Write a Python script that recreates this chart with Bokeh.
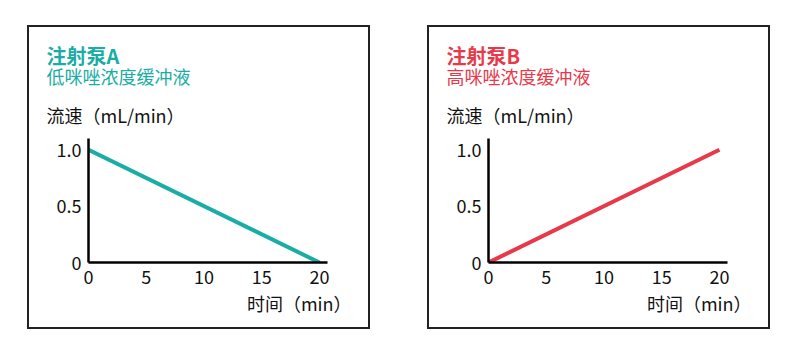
from bokeh.plotting import figure
from bokeh.layouts import row
from bokeh.models import Title, FixedTicker, Range1d
from bokeh.embed import file_html
from bokeh.resources import INLINE

# ---- data ----
time_min = [0, 20]
pump_a_flow = [1.0, 0.0]
pump_b_flow = [0.0, 1.0]
x_ticks = [0, 5, 10, 15, 20]
y_ticks = [0, 0.5, 1.0]
y_tick_labels = {0: "0", 0.5: "0.5", 1.0: "1.0"}

panels = [
    ("注射泵A", "低咪唑浓度缓冲液", pump_a_flow, "#1AADA5"),
    ("注射泵B", "高咪唑浓度缓冲液", pump_b_flow, "#E8394A"),
]

FONT = "Noto Sans CJK SC"


def make_panel(title, subtitle, flow, color):
    p = figure(width=339, height=300, output_backend="svg", toolbar_location=None,
               x_range=Range1d(0, 20.7), y_range=Range1d(0, 1.1),
               min_border_left=59, min_border_right=41,
               min_border_top=111, min_border_bottom=65,
               margin=(27, 32, 20, 29),
               styles={"outline": "2px solid #222222", "outline-offset": "0px"})
    p.outline_line_color = None
    p.grid.visible = False
    p.background_fill_color = "white"
    p.border_fill_color = "white"

    for ax in (p.xaxis[0], p.yaxis[0]):
        ax.axis_line_color = "black"
        ax.axis_line_width = 2.5
        ax.major_tick_line_color = None
        ax.minor_tick_line_color = None
        ax.major_label_text_font = FONT
        ax.major_label_text_font_size = "18px"
        ax.major_label_text_color = "#111111"
    p.xaxis[0].ticker = FixedTicker(ticks=x_ticks)
    p.xaxis[0].major_label_standoff = 1
    p.yaxis[0].ticker = FixedTicker(ticks=y_ticks)
    p.yaxis[0].major_label_overrides = y_tick_labels
    p.yaxis[0].major_label_standoff = 1

    p.line(time_min, flow, line_color=color, line_width=4)

    # texts above the frame (first added = nearest the frame)
    p.add_layout(Title(text="流速（mL/min）", align="left", offset=-42, standoff=22,
                       text_font=FONT, text_font_size="18px", text_font_style="normal",
                       text_color="#111111"), "above")
    p.add_layout(Title(text=subtitle, align="left", offset=-42, standoff=-1,
                       text_font=FONT, text_font_size="18px", text_font_style="normal",
                       text_color=color), "above")
    p.add_layout(Title(text=title, align="left", offset=-42, standoff=-17,
                       text_font=FONT, text_font_size="20px", text_font_style="bold",
                       text_color=color), "above")
    p.add_layout(Title(text="时间（min）", align="right", offset=-24, standoff=3,
                       text_font=FONT, text_font_size="18px", text_font_style="normal",
                       text_color="#111111"), "below")
    return p


layout = row(make_panel(*panels[0]), make_panel(*panels[1]))
open("out.html", "w").write(file_html(layout, INLINE))
